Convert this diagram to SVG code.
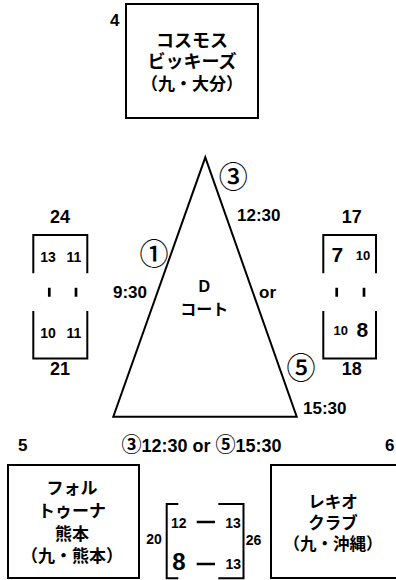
<svg xmlns="http://www.w3.org/2000/svg" width="396" height="580" viewBox="0 0 396 580">
<style>
text{font-family:"Liberation Sans","Noto Sans CJK JP",sans-serif;font-weight:bold;fill:#000}
.jp{font-family:"Noto Sans CJK JP","Liberation Sans",sans-serif;font-size:17px;text-anchor:middle}
.c{text-anchor:middle}
.box{fill:#fff;stroke:#000;stroke-width:2}
.ln{fill:none;stroke:#000;stroke-width:2}
.dash{fill:none;stroke:#000;stroke-width:2.7}
.t17{font-size:17px}
.t18{font-size:18px}
.s14{font-size:14px}
.circ{font-family:"Noto Sans CJK JP",sans-serif;font-size:29px;font-weight:500;text-anchor:middle}
.cs{font-family:"Noto Sans CJK JP",sans-serif;font-size:20px}
</style>
<rect width="396" height="580" fill="#fff"/>

<g id="team4">
<rect class="box" x="126" y="4" width="132" height="114"/>
<text class="t17" x="110" y="26">4</text>
<text class="jp" x="192" y="47" style="font-size:18px">コスモス</text>
<text class="jp" x="192" y="68" style="font-size:18px">ビッキーズ</text>
<text class="jp" x="192" y="90" style="font-size:17px">（九・大分）</text>
</g>

<g id="court">
<polygon class="ln" points="205.3,157.3 296.7,416.7 113.3,416.7"/>
<text class="c" x="204.3" y="292" style="font-size:16px">D</text>
<text class="jp" x="204.3" y="315" style="font-size:16px">コート</text>
</g>

<g id="labels">
<text class="circ" x="233.3" y="187.7">③</text>
<text class="t17" x="237" y="221">12:30</text>
<text class="circ" x="154" y="265">①</text>
<text class="t17" x="113" y="298">9:30</text>
<text class="t17" x="259" y="298">or</text>
<text class="circ" x="301" y="379">⑤</text>
<text class="t17" x="303" y="414">15:30</text>
<text class="t17" x="18" y="451">5</text>
<text class="t17" x="385" y="451">6</text>
<text x="121.5" y="451.5" style="font-size:18px"><tspan class="cs">③</tspan>12:30 or <tspan class="cs">⑤</tspan>15:30</text>
</g>

<g id="scoreLeft">
<text class="c t18" x="60" y="223">24</text>
<text class="c s14" x="48" y="262">13</text>
<text class="c s14" x="74" y="262">11</text>
<text class="c s14" x="48" y="338">10</text>
<text class="c s14" x="74" y="338">11</text>
<text class="c t18" x="60" y="375">21</text>
</g>

<g id="scoreRight">
<text class="c t18" x="351.7" y="223">17</text>
<text class="c" x="337.3" y="262" style="font-size:21px">7</text>
<text class="c" x="363" y="259.5" style="font-size:13px">10</text>
<text class="c" x="340.7" y="334.5" style="font-size:13px">10</text>
<text class="c" x="362.3" y="337" style="font-size:21px">8</text>
<text class="c t18" x="351.7" y="375">18</text>
</g>

<g id="scoreBottom">
<text class="c s14" x="178.8" y="528">12</text>
<text class="c s14" x="233" y="528">13</text>
<text class="c" x="179" y="570" style="font-size:24px">8</text>
<text class="c s14" x="233.3" y="569">13</text>
<text class="c s14" x="154" y="544">20</text>
<text class="c s14" x="253.5" y="545">26</text>
</g>

<g id="team5">
<rect class="box" x="8" y="465" width="131" height="113"/>
<text class="jp" x="72" y="494">フォル</text>
<text class="jp" x="72" y="517">トゥーナ</text>
<text class="jp" x="72" y="540">熊本</text>
<text class="jp" x="72" y="562">（九・熊本）</text>
</g>

<g id="team6">
<rect class="box" x="271" y="465" width="140" height="113"/>
<text class="jp" x="333" y="508" style="font-size:16.5px">レキオ</text>
<text class="jp" x="333" y="529" style="font-size:16.5px">クラブ</text>
<text class="jp" x="333" y="550" style="font-size:16.5px">（九・沖縄）</text>
</g>

<g id="connectors">
<path class="ln" d="M33.3,273.3V235H87.3V273.3"/>
<path class="ln" d="M33.3,311V358.5H87.3V311"/>
<path class="ln" d="M323.3,273.3V235H376V273.3"/>
<path class="ln" d="M323.3,311V358.5H376V311"/>
<path class="dash" d="M49.3,287.7V296.7M76,287.7V296.7M336.7,287.7V296.7M364,287.7V296.7"/>
<path class="ln" d="M178.3,504H166.7V578.3H178.3M218.3,504H243.5V578.3H218.3"/>
<path class="dash" d="M196.7,522H215M196.7,564H215"/>
</g>
</svg>
